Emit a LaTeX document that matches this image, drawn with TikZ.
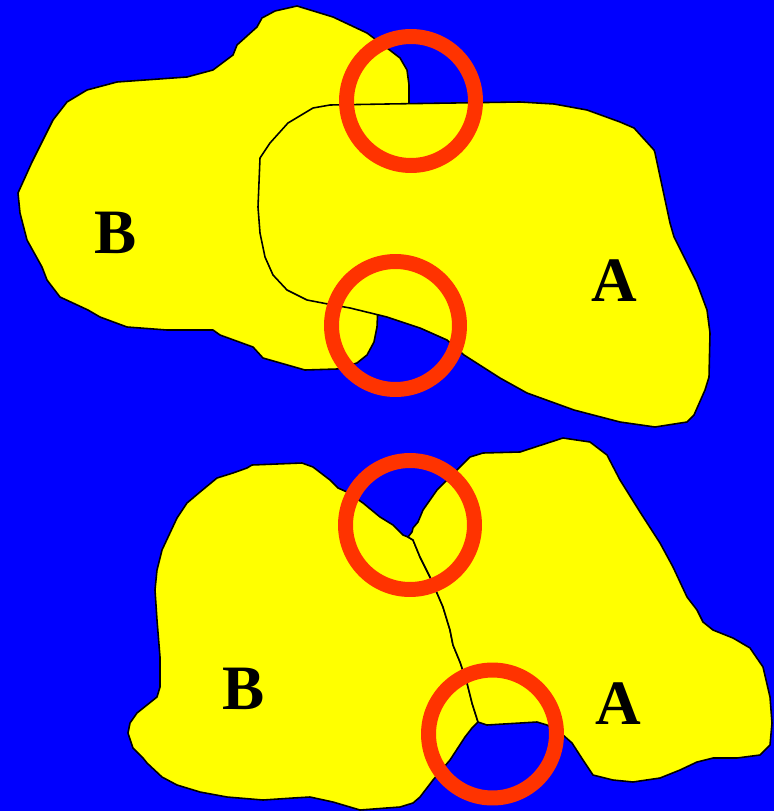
\documentclass[tikz,border=0pt]{standalone}
\usepackage{fontspec}
\setmainfont{Liberation Serif}
\definecolor{sea}{RGB}{0,0,255}
\definecolor{land}{RGB}{255,255,0}
\definecolor{ringred}{RGB}{255,51,0}
\begin{document}
\begin{tikzpicture}[x=0.02cm,y=-0.02cm,
  region/.style={fill=land,draw=black,line width=0.9pt,line join=round},
  ring/.style={draw=ringred,line width=0.3cm},
  label/.style={font=\fontsize{36}{40}\selectfont\bfseries,inner sep=0pt}]
% background
\fill[sea] (0,0) rectangle (774,811);
\useasboundingbox (0,0) rectangle (774,811);

% ---- upper pair: B lies underneath, A overlaps it ----
\path[region] (297,6) -- (333,17) -- (367,33) -- (387,48) -- (400,58) -- (407,70)
  -- (409,85) -- (409,115) -- (400,200) -- (378,305) -- (377,327) -- (374,342)
  -- (367,355) -- (357,363) -- (337,369) -- (305,370) -- (263,358) -- (253,347)
  -- (220,335) -- (213,330) -- (167,330) -- (127,327) -- (100,317) -- (88,310)
  -- (60,297) -- (47,280) -- (42,267) -- (27,240) -- (20,213) -- (18,193)
  -- (32,162) -- (53,120) -- (67,102) -- (87,90) -- (117,82) -- (187,77)
  -- (213,70) -- (233,55) -- (237,45) -- (257,27) -- (262,18) -- (275,11) -- cycle;

\path[region] (330,105) -- (387,104) -- (520,102) -- (554,104) -- (587,110)
  -- (620,122) -- (634,128) -- (654,150) -- (655,153) -- (670,223) -- (674,237)
  -- (692,273) -- (697,283) -- (707,310) -- (710,333) -- (709,377) -- (705,390)
  -- (694,415) -- (687,422) -- (655,427) -- (620,422) -- (574,410) -- (527,393)
  -- (500,378) -- (464,355) -- (447,340) -- (420,328) -- (387,317) -- (350,308)
  -- (333,305) -- (307,300) -- (287,290) -- (273,275) -- (265,257) -- (260,233)
  -- (258,207) -- (260,158) -- (270,143) -- (288,123) -- (313,108) -- cycle;

\node[label] (B1) at (116,233) {B};
\node[label] (A1) at (614,281) {A};

% ---- lower pair: B and A touching along a shared border ----
\path[region] (252,465) -- (302,463) -- (313,467) -- (330,480) -- (338,488)
  -- (347,492) -- (363,503) -- (380,517) -- (393,525) -- (403,535) -- (408,537)
  -- (413,540) -- (420,557) -- (430,577) -- (437,593) -- (443,607) -- (450,630)
  -- (453,645) -- (460,662) -- (467,683) -- (472,703) -- (478,722)
  -- (472,728) -- (465,737) -- (450,760) -- (433,780) -- (420,797) -- (413,803)
  -- (400,807) -- (360,810) -- (333,802) -- (310,797) -- (293,798) -- (263,800)
  -- (227,797) -- (200,792) -- (177,785) -- (162,777) -- (147,763) -- (143,758)
  -- (133,748) -- (128,733) -- (130,723) -- (137,713) -- (157,697) -- (160,687)
  -- (160,657) -- (157,620) -- (155,590) -- (157,570) -- (162,550) -- (177,518)
  -- (187,503) -- (200,492) -- (217,478) -- (233,473) -- (247,468) -- cycle;

\path[region] (408,537) -- (412,532) -- (413,528) -- (418,522) -- (423,510)
  -- (437,490) -- (457,470) -- (470,457) -- (483,453) -- (520,452) -- (563,438)
  -- (590,442) -- (607,455) -- (620,480) -- (640,512) -- (660,543) -- (673,567)
  -- (687,597) -- (697,610) -- (703,622) -- (713,630) -- (733,638) -- (750,648)
  -- (763,667) -- (770,697) -- (772,723) -- (770,745) -- (760,755) -- (737,758)
  -- (713,758) -- (697,762) -- (680,770) -- (660,778) -- (633,782) -- (613,780)
  -- (593,775) -- (583,760) -- (572,743) -- (563,735) -- (547,725) -- (537,722)
  -- (487,725) -- (478,722)
  -- (472,703) -- (467,683) -- (460,662) -- (453,645) -- (450,630) -- (443,607)
  -- (437,593) -- (430,577) -- (420,557) -- (413,540) -- cycle;

\node[label] (B2) at (244,689) {B};
\node[label] (A2) at (618,704) {A};

% ---- highlight rings ----
\draw[ring] (411,101) circle[radius=1.29cm];
\draw[ring] (395.5,325.5) circle[radius=1.28cm];
\draw[ring] (410,525) circle[radius=1.29cm];
\draw[ring] (492.5,734) circle[radius=1.28cm];
\end{tikzpicture}
\end{document}
